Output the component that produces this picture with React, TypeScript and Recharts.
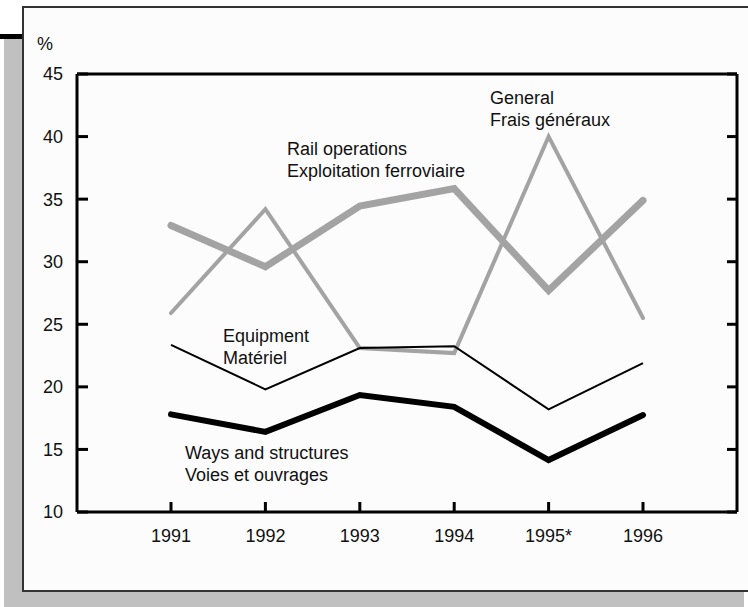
import React from 'react';
import { LineChart, Line, XAxis, YAxis } from 'recharts';

const years = ['1991', '1992', '1993', '1994', '1995*', '1996'];
const railOperations = [32.9, 29.6, 34.45, 35.85, 27.7, 34.9];
const general = [25.9, 34.2, 23.1, 22.7, 40.0, 25.5];
const equipment = [23.35, 19.8, 23.1, 23.25, 18.2, 21.9];
const waysStructures = [17.8, 16.4, 19.35, 18.4, 14.15, 17.75];
const yTicks = [10, 15, 20, 25, 30, 35, 40, 45];

const data = years.map((year, i) => ({
  year,
  rail: railOperations[i],
  general: general[i],
  equipment: equipment[i],
  ways: waysStructures[i],
}));

const FONT = '"Liberation Sans", Arial, Helvetica, sans-serif';
const GRAY = '#a3a3a3';

const LeftTick = (props: any) => {
  const { x, y, payload } = props;
  return (
    <g>
      <text x={x} y={y} dy="0.355em" textAnchor="end" fontSize={18} fontFamily={FONT} fill="#111">
        {payload.value}
      </text>
      <line x1={x + 14} x2={x + 25} y1={y} y2={y} stroke="#000" strokeWidth={3} />
    </g>
  );
};

const RightTick = (props: any) => {
  const { x, y } = props;
  return <line x1={x - 10} x2={x} y1={y} y2={y} stroke="#000" strokeWidth={3} />;
};

const BottomTick = (props: any) => {
  const { x, y, payload } = props;
  return (
    <g>
      <text x={x} y={y} dy="0.355em" textAnchor="middle" fontSize={18} fontFamily={FONT} fill="#111">
        {payload.value}
      </text>
      <line x1={x} x2={x} y1={y - 24} y2={y - 34} stroke="#000" strokeWidth={3} />
    </g>
  );
};

const labelStyle: React.CSSProperties = {
  position: 'absolute',
  fontFamily: FONT,
  fontSize: 18,
  lineHeight: '22px',
  color: '#111',
  whiteSpace: 'nowrap',
};

export default function App() {
  return (
    <div style={{ position: 'absolute', left: 0, top: 0, width: 748, height: 607, overflow: 'hidden', background: '#fff' }}>
      {/* shadow */}
      <div style={{ position: 'absolute', left: 0, top: 34, width: 24, height: 5, background: '#000' }} />
      <div style={{ position: 'absolute', left: 4, top: 39, width: 740, height: 600, background: '#c0c0c0' }} />
      {/* frame */}
      <div
        style={{
          position: 'absolute',
          left: 22,
          top: 6,
          width: 740,
          height: 586,
          boxSizing: 'border-box',
          border: '2px solid #333',
          background: '#fcfcfc',
        }}
      />
      <div style={{ position: 'absolute', left: 0, top: 0 }}>
        <LineChart width={748} height={607} data={data} margin={{ top: 73, right: 0, bottom: 65, left: 17 }}>
          <XAxis
            dataKey="year"
            xAxisId="t"
            orientation="top"
            height={1}
            tick={false}
            tickLine={false}
            axisLine={{ stroke: '#000', strokeWidth: 3 }}
            padding={{ left: 94, right: 94 }}
          />
          <XAxis
            dataKey="year"
            height={30}
            tickSize={0}
            tickMargin={24}
            tick={<BottomTick />}
            tickLine={false}
            axisLine={{ stroke: '#000', strokeWidth: 3 }}
            padding={{ left: 94, right: 94 }}
            interval={0}
          />
          <YAxis
            domain={[10, 45]}
            ticks={yTicks}
            width={60}
            tickSize={0}
            tickMargin={14}
            tick={<LeftTick />}
            tickLine={false}
            axisLine={{ stroke: '#000', strokeWidth: 3 }}
            interval={0}
          />
          <YAxis
            yAxisId="r"
            orientation="right"
            domain={[10, 45]}
            ticks={yTicks}
            width={11}
            tickSize={0}
            tickMargin={0}
            tick={<RightTick />}
            tickLine={false}
            axisLine={{ stroke: '#000', strokeWidth: 3 }}
            interval={0}
          />
          {/* invisible series so the top and right frame axes are drawn */}
          <Line
            xAxisId="t"
            yAxisId="r"
            dataKey="rail"
            stroke="none"
            dot={false}
            activeDot={false}
            legendType="none"
            isAnimationActive={false}
          />
          <Line
            dataKey="general"
            stroke={GRAY}
            strokeWidth={4}
            dot={false}
            activeDot={false}
            strokeLinecap="round"
            isAnimationActive={false}
          />
          <Line
            dataKey="rail"
            stroke={GRAY}
            strokeWidth={7}
            dot={false}
            activeDot={false}
            strokeLinecap="round"
            isAnimationActive={false}
          />
          <Line
            dataKey="equipment"
            stroke="#000"
            strokeWidth={2}
            dot={false}
            activeDot={false}
            isAnimationActive={false}
          />
          <Line
            dataKey="ways"
            stroke="#000"
            strokeWidth={6}
            dot={false}
            activeDot={false}
            strokeLinecap="round"
            isAnimationActive={false}
          />
        </LineChart>
      </div>
      <div style={{ ...labelStyle, left: 37, top: 33 }}>%</div>
      <div style={{ ...labelStyle, left: 490, top: 87 }}>
        General
        <br />
        Frais généraux
      </div>
      <div style={{ ...labelStyle, left: 287, top: 138 }}>
        Rail operations
        <br />
        Exploitation ferroviaire
      </div>
      <div style={{ ...labelStyle, left: 223, top: 325 }}>
        Equipment
        <br />
        Matériel
      </div>
      <div style={{ ...labelStyle, left: 185, top: 442 }}>
        Ways and structures
        <br />
        Voies et ouvrages
      </div>
    </div>
  );
}
